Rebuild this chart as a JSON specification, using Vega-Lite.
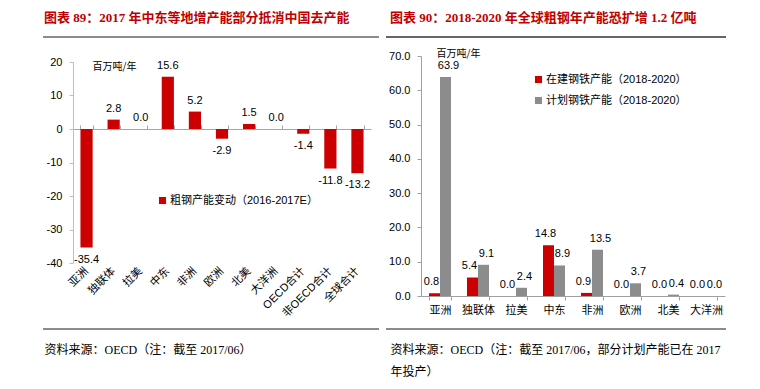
{
  "$schema": "https://vega.github.io/schema/vega-lite/v6.json",
  "padding": {"left": 42, "top": 12, "right": 0, "bottom": 0},
  "spacing": 5,
  "background": "white",
  "config": {"view": {"stroke": null}, "axis": {"grid": false},
    "locale": {"number": {"decimal": ".", "thousands": ",", "grouping": [3], "currency": ["$", ""], "minus": "-"}}},
  "resolve": {"scale": {"color": "independent"}, "legend": {"color": "independent"}},
  "hconcat": [
    {
      "width": 336,
      "height": 292,
      "title": {"text": "图表 89：2017 年中东等地增产能部分抵消中国去产能", "anchor": "start", "frame": "group", "dx": 1, "offset": 11, "font": "Liberation Serif, Noto Sans CJK SC", "fontSize": 13, "fontWeight": "bold", "color": "#c00000"},
      "data": {"values": [
        {"region": "亚洲", "v": -35.4, "s": "粗钢产能变动（2016-2017E）"},
        {"region": "独联体", "v": 2.8, "s": "粗钢产能变动（2016-2017E）"},
        {"region": "拉美", "v": 0.0, "s": "粗钢产能变动（2016-2017E）"},
        {"region": "中东", "v": 15.6, "s": "粗钢产能变动（2016-2017E）"},
        {"region": "非洲", "v": 5.2, "s": "粗钢产能变动（2016-2017E）"},
        {"region": "欧洲", "v": -2.9, "s": "粗钢产能变动（2016-2017E）"},
        {"region": "北美", "v": 1.5, "s": "粗钢产能变动（2016-2017E）"},
        {"region": "大洋洲", "v": 0.0, "s": "粗钢产能变动（2016-2017E）"},
        {"region": "OECD合计", "v": -1.4, "s": "粗钢产能变动（2016-2017E）"},
        {"region": "非OECD合计", "v": -11.8, "s": "粗钢产能变动（2016-2017E）"},
        {"region": "全球合计", "v": -13.2, "s": "粗钢产能变动（2016-2017E）"}
      ]},
      "resolve": {"axis": {"x": "independent"}},
      "layer": [
        {
          "mark": {"type": "bar"},
          "encoding": {
            "x": {"field": "region", "type": "nominal", "sort": null,
              "scale": {"range": [30, 328], "paddingInner": 0.55, "paddingOuter": 0.275},
              "axis": {"orient": "top", "offset": -92, "labels": false, "title": null, "domainColor": "#a6a6a6", "tickColor": "#a6a6a6", "tickSize": 4, "tickBand": "extent"}},
            "y": {"field": "v", "type": "quantitative",
              "scale": {"domain": [-40, 20], "range": [226, 25], "nice": false, "zero": false},
              "axis": {"orient": "left", "offset": -30, "values": [-40, -30, -20, -10, 0, 10, 20], "format": "d", "domainColor": "#bfbfbf", "tickColor": "#bfbfbf", "tickSize": 4, "labelFont": "Liberation Sans", "labelFontSize": 11, "labelColor": "#000", "labelPadding": 7,
                "title": "百万吨/年", "titleAngle": 0, "titleX": 19, "titleY": 29, "titleAlign": "left", "titleBaseline": "middle", "titleFont": "Noto Sans CJK SC", "titleFontSize": 10, "titleFontWeight": "normal", "titleColor": "#000"}},
            "color": {"field": "s", "type": "nominal", "scale": {"range": ["#cc0000"]},
              "legend": {"orient": "none", "legendX": 114, "legendY": 158, "title": null, "symbolType": "square", "symbolSize": 50, "symbolStrokeWidth": 0, "labelFont": "Liberation Sans, Noto Sans CJK SC", "labelFontSize": 11, "labelColor": "#000", "padding": 0, "labelOffset": 2}}
          }
        },
        {
          "transform": [{"filter": "datum.v >= 0"}],
          "mark": {"type": "text", "baseline": "middle", "dy": -11, "font": "Liberation Sans", "fontSize": 11, "color": "#000"},
          "encoding": {
            "x": {"field": "region", "type": "nominal", "sort": null,
              "axis": {"orient": "bottom", "offset": -66, "domain": false, "ticks": false, "labelAngle": -45, "labelAlign": "right", "labelBaseline": "middle", "labelPadding": 6, "labelOverlap": false, "labelFont": "Liberation Sans, Noto Sans CJK SC", "labelFontSize": 11, "labelColor": "#000",
                "title": "资料来源：OECD（注：截至 2017/06）", "titleX": 1, "titleY": 81, "titleAlign": "left", "titleBaseline": "top", "titleFont": "Liberation Serif, Noto Sans CJK SC", "titleFontSize": 12, "titleFontWeight": "normal", "titleColor": "#000"}},
            "y": {"field": "v", "type": "quantitative"},
            "text": {"field": "v", "type": "quantitative", "format": ".1f"}
          }
        },
        {
          "transform": [{"filter": "datum.v < 0"}],
          "mark": {"type": "text", "baseline": "middle", "dy": 12, "font": "Liberation Sans", "fontSize": 11, "color": "#000"},
          "encoding": {
            "x": {"field": "region", "type": "nominal", "sort": null, "axis": null},
            "y": {"field": "v", "type": "quantitative"},
            "text": {"field": "v", "type": "quantitative", "format": ".1f"}
          }
        },
        {
          "data": {"values": [{"r": 27.46}, {"r": -59.7}]},
          "mark": {"type": "rule", "color": "#8c8c8c", "strokeWidth": 2},
          "encoding": {"y": {"field": "r", "type": "quantitative"}}
        }
      ]
    },
    {
      "width": 340,
      "height": 292,
      "title": {"text": "图表 90：2018-2020 年全球粗钢年产能恐扩增 1.2 亿吨", "anchor": "start", "frame": "group", "dx": 4, "offset": 11, "font": "Liberation Serif, Noto Sans CJK SC", "fontSize": 13, "fontWeight": "bold", "color": "#c00000"},
      "data": {"values": [
        {"region": "亚洲", "series": "在建钢铁产能（2018-2020）", "v": 0.8},
        {"region": "亚洲", "series": "计划钢铁产能（2018-2020）", "v": 63.9},
        {"region": "独联体", "series": "在建钢铁产能（2018-2020）", "v": 5.4},
        {"region": "独联体", "series": "计划钢铁产能（2018-2020）", "v": 9.1},
        {"region": "拉美", "series": "在建钢铁产能（2018-2020）", "v": 0.0},
        {"region": "拉美", "series": "计划钢铁产能（2018-2020）", "v": 2.4},
        {"region": "中东", "series": "在建钢铁产能（2018-2020）", "v": 14.8},
        {"region": "中东", "series": "计划钢铁产能（2018-2020）", "v": 8.9},
        {"region": "非洲", "series": "在建钢铁产能（2018-2020）", "v": 0.9},
        {"region": "非洲", "series": "计划钢铁产能（2018-2020）", "v": 13.5},
        {"region": "欧洲", "series": "在建钢铁产能（2018-2020）", "v": 0.0},
        {"region": "欧洲", "series": "计划钢铁产能（2018-2020）", "v": 3.7},
        {"region": "北美", "series": "在建钢铁产能（2018-2020）", "v": 0.0},
        {"region": "北美", "series": "计划钢铁产能（2018-2020）", "v": 0.4},
        {"region": "大洋洲", "series": "在建钢铁产能（2018-2020）", "v": 0.0},
        {"region": "大洋洲", "series": "计划钢铁产能（2018-2020）", "v": 0.0}
      ]},
      "layer": [
        {
          "mark": {"type": "bar"},
          "encoding": {
            "x": {"field": "region", "type": "nominal", "sort": null,
              "scale": {"range": [35, 339], "paddingInner": 0.42, "paddingOuter": 0.21},
              "axis": {"orient": "bottom", "offset": -33, "domainColor": "#a0a0a0", "tickColor": "#a0a0a0", "tickSize": 4, "tickBand": "extent", "labelAngle": 0, "labelPadding": 4, "labelBaseline": "top", "labelFont": "Noto Sans CJK SC", "labelFontSize": 11, "labelColor": "#000",
                "title": ["资料来源：OECD（注：截至 2017/06，部分计划产能已在 2017", "年投产）"], "titleX": 4, "titleY": 48, "titleAlign": "left", "titleBaseline": "top", "titleLineHeight": 22, "titleFont": "Liberation Serif, Noto Sans CJK SC", "titleFontSize": 12, "titleFontWeight": "normal", "titleColor": "#000"}},
            "xOffset": {"field": "series", "type": "nominal", "scale": {"domain": ["在建钢铁产能（2018-2020）", "计划钢铁产能（2018-2020）"], "paddingInner": 0, "paddingOuter": 0}},
            "y": {"field": "v", "type": "quantitative",
              "scale": {"domain": [0, 70], "range": [259, 19], "nice": false, "zero": false},
              "axis": {"orient": "left", "offset": -35, "values": [0, 10, 20, 30, 40, 50, 60, 70], "format": ".1f", "domainColor": "#a0a0a0", "tickColor": "#a0a0a0", "tickSize": 4, "labelFont": "Liberation Sans", "labelFontSize": 11, "labelColor": "#000", "labelPadding": 7,
                "title": "百万吨/年", "titleAngle": 0, "titleX": 15, "titleY": 16, "titleAlign": "left", "titleBaseline": "middle", "titleFont": "Noto Sans CJK SC", "titleFontSize": 10, "titleFontWeight": "normal", "titleColor": "#000"}},
            "color": {"field": "series", "type": "nominal",
              "scale": {"domain": ["在建钢铁产能（2018-2020）", "计划钢铁产能（2018-2020）"], "range": ["#cc0000", "#8c8c8c"]},
              "legend": {"orient": "none", "legendX": 147, "legendY": 37, "title": null, "symbolType": "square", "symbolSize": 50, "symbolStrokeWidth": 0, "rowPadding": 9, "labelFont": "Liberation Sans, Noto Sans CJK SC", "labelFontSize": 11, "labelColor": "#000", "padding": 0, "labelOffset": 2}}
          }
        },
        {
          "transform": [{"filter": {"field": "series", "equal": "在建钢铁产能（2018-2020）"}}],
          "mark": {"type": "text", "baseline": "middle", "dy": -11, "dx": -3, "font": "Liberation Sans", "fontSize": 11, "color": "#000"},
          "encoding": {
            "x": {"field": "region", "type": "nominal", "sort": null},
            "xOffset": {"field": "series", "type": "nominal"},
            "y": {"field": "v", "type": "quantitative"},
            "text": {"field": "v", "type": "quantitative", "format": ".1f"}
          }
        },
        {
          "transform": [{"filter": {"field": "series", "equal": "计划钢铁产能（2018-2020）"}}],
          "mark": {"type": "text", "baseline": "middle", "dy": -11, "dx": 3, "font": "Liberation Sans", "fontSize": 11, "color": "#000"},
          "encoding": {
            "x": {"field": "region", "type": "nominal", "sort": null},
            "xOffset": {"field": "series", "type": "nominal"},
            "y": {"field": "v", "type": "quantitative"},
            "text": {"field": "v", "type": "quantitative", "format": ".1f"}
          }
        },
        {
          "data": {"values": [{"r": 75.54}]},
          "mark": {"type": "rule", "color": "#333333", "strokeWidth": 1.5},
          "encoding": {"y": {"field": "r", "type": "quantitative"}}
        },
        {
          "data": {"values": [{"r": -9.63}]},
          "mark": {"type": "rule", "color": "#8c8c8c", "strokeWidth": 2},
          "encoding": {"y": {"field": "r", "type": "quantitative"}}
        }
      ]
    }
  ]
}
